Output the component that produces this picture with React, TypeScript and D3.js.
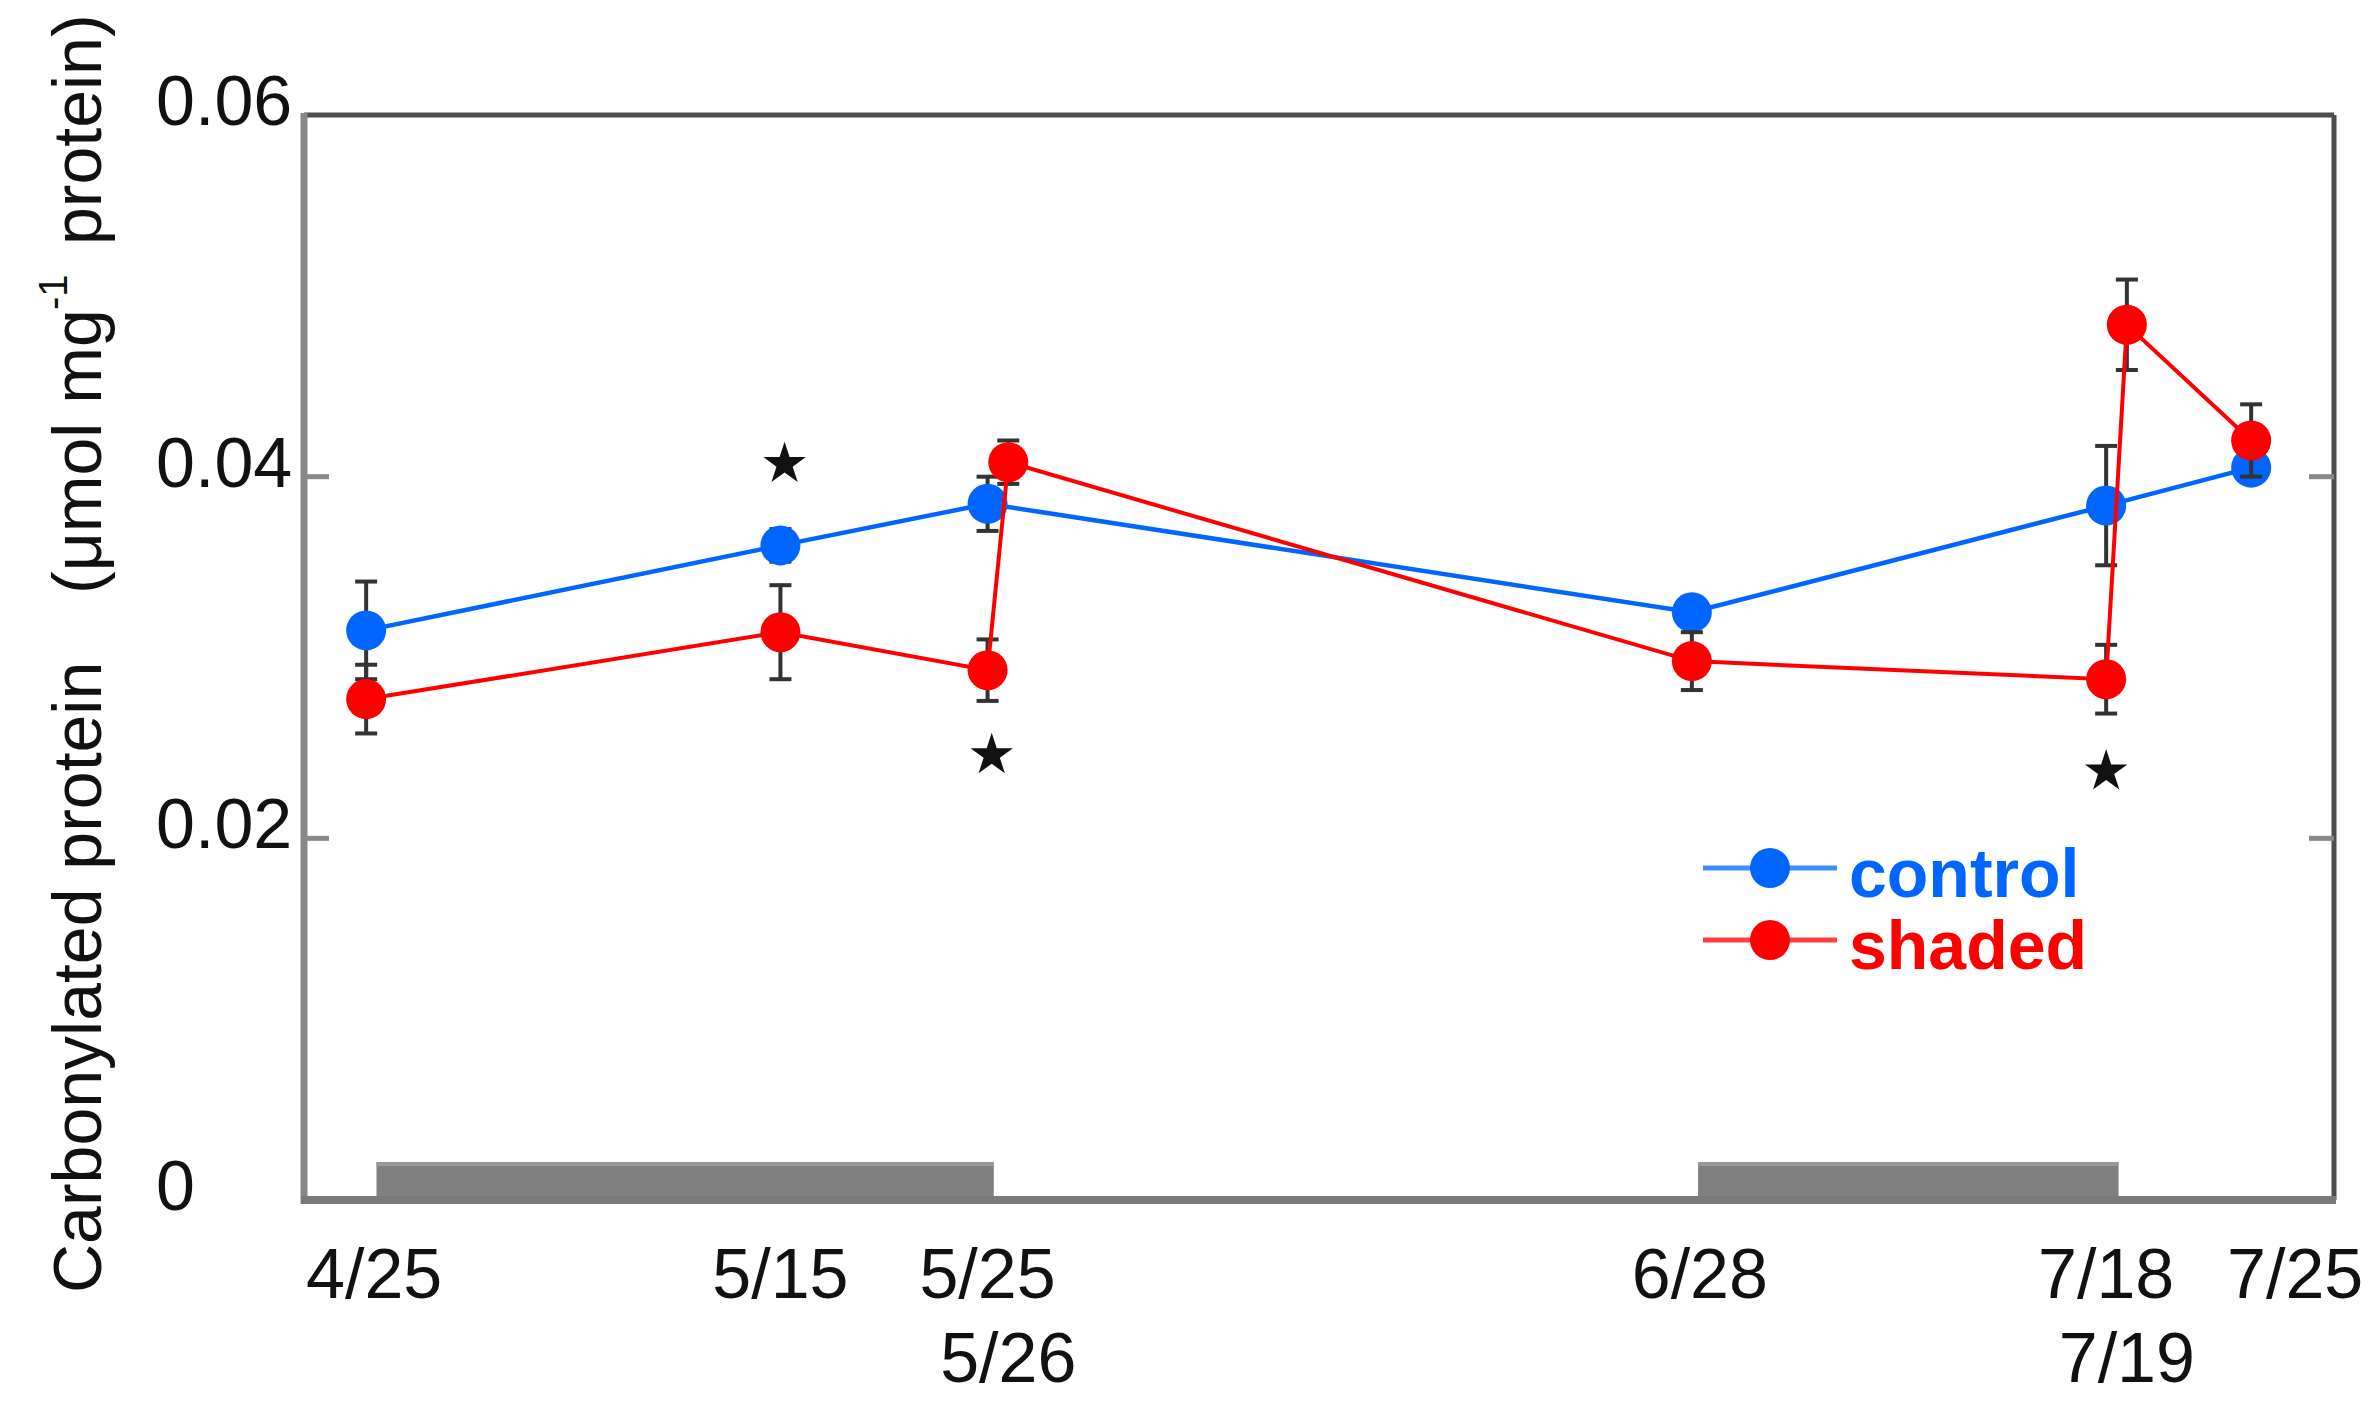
import React from 'react';
import * as d3 from 'd3';

// Days since 4/25
const controlDays = [0, 20, 30, 64, 84, 91];
const controlValues = [0.0315, 0.0362, 0.0385, 0.0325, 0.0384, 0.0405];
const controlErrors = [0.0027, 0.0009, 0.0015, 0.0008, 0.0033, 0.0006];

const shadedDays = [0, 20, 30, 31, 64, 84, 85, 91];
const shadedValues = [0.0277, 0.0314, 0.0293, 0.0408, 0.0298, 0.0288, 0.0484, 0.042];
const shadedErrors = [0.0019, 0.0026, 0.0017, 0.0012, 0.0016, 0.0019, 0.0025, 0.002];

const starDays = [20.2, 30.2, 84];
const starValues = [0.0407, 0.0246, 0.0237];

const shadeStart = [0.5, 64.3];
const shadeEnd = [30.3, 84.6];
const shadeHeight = 0.0021;

const yTicks = [0, 0.02, 0.04, 0.06];
const yTickLabels = ['0', '0.02', '0.04', '0.06'];

const xLabels = ['4/25', '5/15', '5/25', '5/26', '6/28', '7/18', '7/19', '7/25'];
const xLabelDays = [0, 20, 30, 31, 64, 84, 85, 91];
const xLabelRows = [0, 0, 0, 1, 0, 0, 1, 0];

const BLUE = '#0066ff';
const RED = '#ff0000';
const FONT = 'Liberation Sans, Arial, Helvetica, sans-serif';

export default function App() {
  const W = 2379;
  const H = 1408;
  const left = 304, right = 2334, top = 115, bottom = 1200;
  const x = d3.scaleLinear().domain([-3, 95]).range([left, right]);
  const y = d3.scaleLinear().domain([0, 0.06]).range([bottom, top]);
  const line = d3.line<[number, number]>().x(d => x(d[0])).y(d => y(d[1]));

  const series = [
    { days: controlDays, values: controlValues, errors: controlErrors, color: BLUE, width: 4.5 },
    { days: shadedDays, values: shadedValues, errors: shadedErrors, color: RED, width: 4 },
  ];
  const star = d3.symbol().type(d3.symbolStar).size(560)();
  const legendItems = [
    { name: 'control', color: BLUE },
    { name: 'shaded', color: RED },
  ];
  const labelNudge = (t: string) => (t === '7/25' ? 44 : t === '4/25' ? 8 : t === '6/28' ? 8 : 0);

  return (
    <svg width={W} height={H} style={{ position: 'absolute', left: 0, top: 0, background: '#fff' }} fontFamily={FONT}>
      <rect x={0} y={0} width={W} height={H} fill="#fff" />
      {/* shading bars */}
      {shadeStart.map((s, i) => (
        <g key={'sb' + i}>
          <rect x={x(s)} y={y(shadeHeight)} width={x(shadeEnd[i]) - x(s)} height={y(0) - y(shadeHeight)} fill="#808080" />
          <rect x={x(s)} y={y(shadeHeight)} width={x(shadeEnd[i]) - x(s)} height={4} fill="#999" />
        </g>
      ))}
      {/* frame */}
      <line x1={left} y1={top} x2={right} y2={top} stroke="#4d4d4d" strokeWidth={5} />
      <line x1={right} y1={top} x2={right} y2={bottom} stroke="#4d4d4d" strokeWidth={5} />
      <line x1={left} y1={top - 2} x2={left} y2={bottom + 4} stroke="#888" strokeWidth={7} />
      <line x1={left - 3} y1={bottom} x2={right + 2} y2={bottom} stroke="#7a7a7a" strokeWidth={8} />
      {/* y ticks */}
      {yTicks.map((t, i) => (
        <g key={'yt' + i}>
          {t > 0 && t < 0.06 && (
            <>
              <line x1={left} x2={left + 25} y1={y(t)} y2={y(t)} stroke="#888" strokeWidth={5} />
              <line x1={right - 25} x2={right} y1={y(t)} y2={y(t)} stroke="#888" strokeWidth={5} />
            </>
          )}
          <text x={156} y={y(t) + 10} fontSize={70} fill="#111">{yTickLabels[i]}</text>
        </g>
      ))}
      {/* x labels */}
      {xLabels.map((l, i) => (
        <text key={'xl' + i} x={x(xLabelDays[i]) + labelNudge(l)} y={xLabelRows[i] === 0 ? 1298 : 1382}
          fontSize={70} textAnchor="middle" fill="#111">{l}</text>
      ))}
      {/* y label */}
      <text transform="translate(101,1293) rotate(-90)" fontSize={68} fill="#111">
        <tspan x={0}>Carbonylated protein</tspan>
        <tspan x={699}>(μmol mg</tspan>
        <tspan x={983} dy={-34} fontSize={40}>-1</tspan>
        <tspan x={1048} dy={34}>protein)</tspan>
      </text>
      {/* series */}
      {series.map((s, si) => (
        <g key={'s' + si}>
          {s.days.map((d, i) => (
            <g key={'e' + i} stroke="#333" strokeWidth={4}>
              <line x1={x(d)} x2={x(d)} y1={y(s.values[i] + s.errors[i])} y2={y(s.values[i] - s.errors[i])} />
              <line x1={x(d) - 11} x2={x(d) + 11} y1={y(s.values[i] + s.errors[i])} y2={y(s.values[i] + s.errors[i])} />
              <line x1={x(d) - 11} x2={x(d) + 11} y1={y(s.values[i] - s.errors[i])} y2={y(s.values[i] - s.errors[i])} />
            </g>
          ))}
          <path d={line(s.days.map((d, i) => [d, s.values[i]] as [number, number])) || ''} fill="none" stroke={s.color} strokeWidth={s.width} />
          {s.days.map((d, i) => (
            <circle key={'c' + i} cx={x(d)} cy={y(s.values[i])} r={20} fill={s.color} />
          ))}
        </g>
      ))}
      {/* stars */}
      {starDays.map((d, i) => (
        <path key={'st' + i} d={star || ''} transform={`translate(${x(d)},${y(starValues[i])})`} fill="#111" />
      ))}
      {/* legend */}
      {legendItems.map((it, i) => (
        <g key={'lg' + i} transform={`translate(0,${868 + i * 72})`}>
          <line x1={1703} x2={1837} y1={0} y2={0} stroke={it.color} strokeWidth={5} opacity={0.75} />
          <circle cx={1770} cy={0} r={20} fill={it.color} />
          <text x={1849} y={29} fontSize={68} fontWeight="bold" fill={it.color}>{it.name}</text>
        </g>
      ))}
    </svg>
  );
}
